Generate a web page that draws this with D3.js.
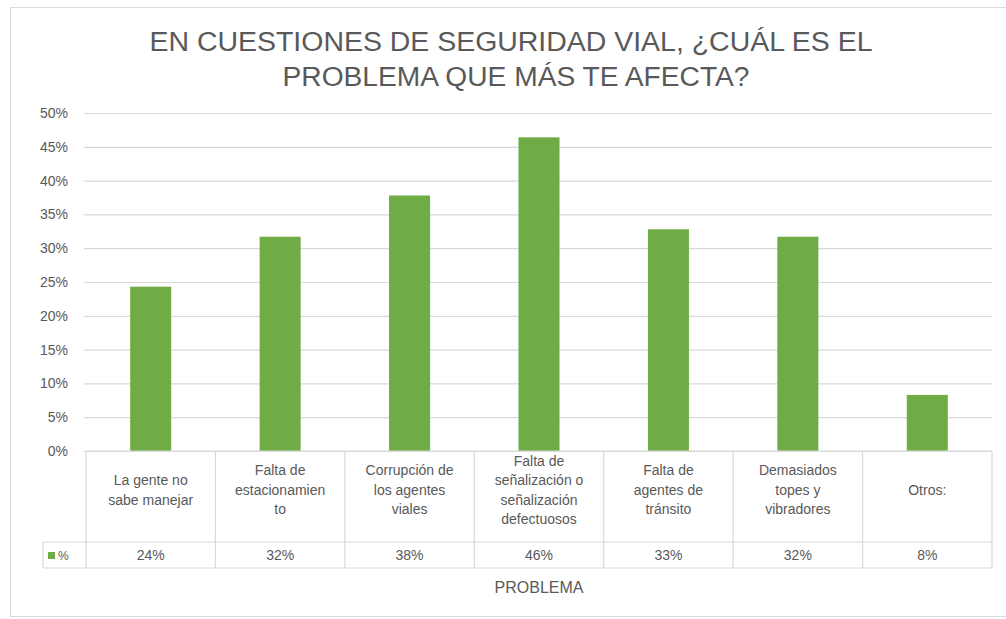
<!DOCTYPE html>
<html>
<head>
<meta charset="utf-8">
<script src="https://cdn.jsdelivr.net/npm/d3@7"></script>
<style>
  body{margin:0;background:#fff;}
  text{font-family:"Liberation Sans",Arial,sans-serif;fill:#595959;}
</style>
</head>
<body>
<svg id="chart"></svg>
<script>
// data
var titleLines = ["EN CUESTIONES DE SEGURIDAD VIAL, ¿CUÁL ES EL", "PROBLEMA QUE MÁS TE AFECTA?"];
var categories = [
  ["La gente no", "sabe manejar"],
  ["Falta de", "estacionamien", "to"],
  ["Corrupción de", "los agentes", "viales"],
  ["Falta de", "señalización o", "señalización", "defectuosos"],
  ["Falta de", "agentes de", "tránsito"],
  ["Demasiados", "topes y", "vibradores"],
  ["Otros:"]
];
var values = [24.3, 31.7, 37.8, 46.4, 32.8, 31.7, 8.3];
var tableLabels = ["24%", "32%", "38%", "46%", "33%", "32%", "8%"];
var yTicks = [0, 5, 10, 15, 20, 25, 30, 35, 40, 45, 50];
var seriesName = "%";
var axisTitle = "PROBLEMA";

var width = 1006, height = 619;
var green = "#6fac46", lineCol = "#d9d9d9";

var svg = d3.select("#chart").attr("width", width).attr("height", height);

// chart frame
svg.append("rect")
   .attr("x", 10.5).attr("y", 7.5)
   .attr("width", 1010).attr("height", 609)
   .attr("fill", "#fff").attr("stroke", lineCol);

// title
svg.append("text").attr("x", 511).attr("y", 51)
   .attr("text-anchor", "middle").style("font-size", "27px")
   .attr("textLength", 723).attr("lengthAdjust", "spacingAndGlyphs")
   .text(titleLines[0]);
svg.append("text").attr("x", 516).attr("y", 86)
   .attr("text-anchor", "middle").style("font-size", "27px")
   .attr("textLength", 467).attr("lengthAdjust", "spacingAndGlyphs")
   .text(titleLines[1]);

var plot = {left: 86, right: 992, top: 113, bottom: 451};

var x = d3.scaleBand().domain(d3.range(categories.length))
          .range([plot.left, plot.right]).paddingInner(0.683).paddingOuter(0.3415);
var y = d3.scaleLinear().domain([0, 50]).range([plot.bottom, plot.top]);

// gridlines + y labels
var yaxis = d3.axisLeft(y).tickValues(yTicks).tickFormat(d => d + "%")
              .tickSize(-(plot.right - 84)).tickPadding(16);
var yg = svg.append("g").attr("transform", "translate(84,0)").call(yaxis);
yg.select(".domain").remove();
yg.selectAll(".tick line").attr("stroke", lineCol).attr("stroke-width", 1.2);
yg.selectAll(".tick text").style("font-size", "14px").style("font-family", "'Liberation Sans',Arial,sans-serif")
  .attr("fill", "#595959");

// bars
svg.selectAll("rect.bar").data(values).enter().append("rect")
   .attr("class", "bar")
   .attr("x", (d, i) => x(i))
   .attr("y", d => y(d))
   .attr("width", x.bandwidth())
   .attr("height", d => y(0) - y(d))
   .attr("fill", green);

// data table
var rowTop = plot.bottom, rowMid = 542, rowBot = 568, keyLeft = 43;
var step = x.step();
var tbl = svg.append("g").attr("stroke", lineCol).attr("stroke-width", 1.2);
tbl.append("line").attr("x1", plot.left).attr("x2", plot.right).attr("y1", rowTop).attr("y2", rowTop);
tbl.append("line").attr("x1", keyLeft).attr("x2", plot.right).attr("y1", rowMid).attr("y2", rowMid);
tbl.append("line").attr("x1", keyLeft).attr("x2", plot.right).attr("y1", rowBot).attr("y2", rowBot);
tbl.append("line").attr("x1", keyLeft).attr("x2", keyLeft).attr("y1", rowMid).attr("y2", rowBot);
tbl.selectAll("line.v").data(d3.range(categories.length + 1)).enter().append("line")
   .attr("class", "v")
   .attr("x1", i => plot.left + i * step).attr("x2", i => plot.left + i * step)
   .attr("y1", rowTop).attr("y2", rowBot);

var lh = 19.5;
var cats = svg.selectAll("g.cat").data(categories).enter().append("g").attr("class", "cat");
cats.each(function(lines, i){
  var cx = x(i) + x.bandwidth() / 2;
  var y0 = 490 - (lines.length - 1) * lh / 2;
  d3.select(this).selectAll("text").data(lines).enter().append("text")
    .attr("x", cx).attr("y", (d, j) => y0 + j * lh)
    .attr("dy", "0.35em").attr("text-anchor", "middle")
    .style("font-size", "14px").text(d => d);
});

svg.selectAll("text.val").data(tableLabels).enter().append("text")
   .attr("class", "val")
   .attr("x", (d, i) => x(i) + x.bandwidth() / 2)
   .attr("y", 555).attr("dy", "0.35em").attr("text-anchor", "middle")
   .style("font-size", "14px").text(d => d);

// legend key
svg.append("rect").attr("x", 48).attr("y", 552).attr("width", 7).attr("height", 7).attr("fill", green);
svg.append("text").attr("x", 58).attr("y", 556).attr("dy", "0.35em").style("font-size", "12px").text(seriesName);

// axis title
svg.append("text").attr("x", (plot.left + plot.right) / 2).attr("y", 587)
   .attr("dy", "0.35em").attr("text-anchor", "middle")
   .style("font-size", "16px").text(axisTitle);
</script>
</body>
</html>
